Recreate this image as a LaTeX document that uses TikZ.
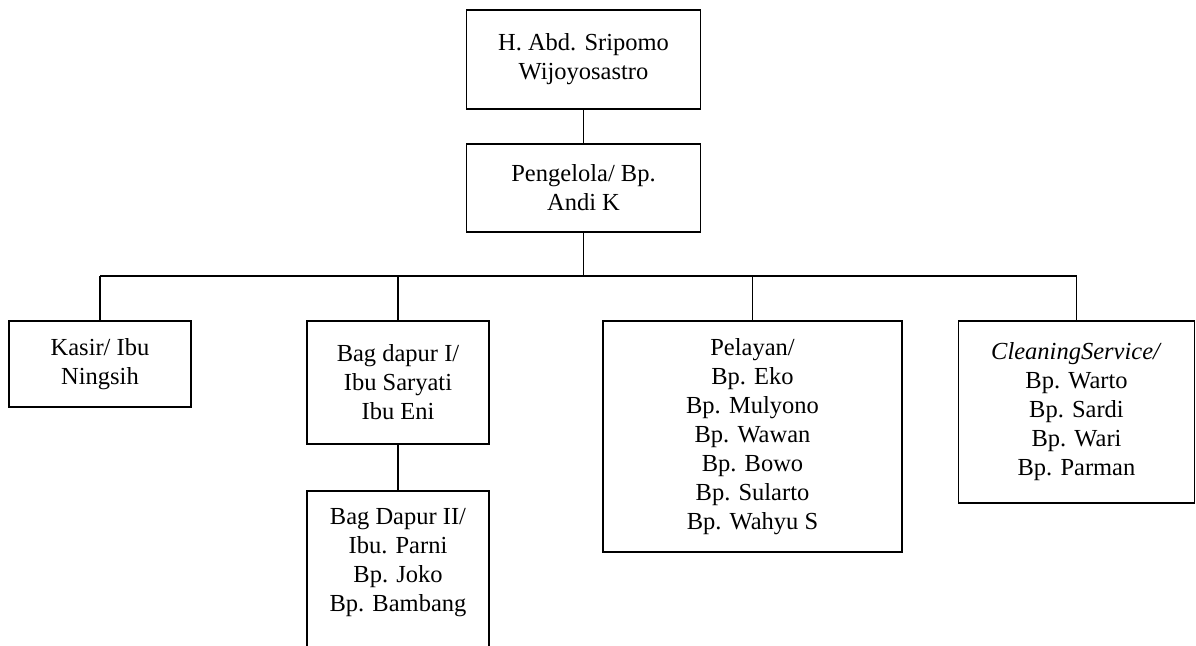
\documentclass[tikz,border=0pt]{standalone}
\usepackage{fontspec}
\setmainfont{Liberation Serif}
\tikzset{
  jabatan/.style={draw, line width=1.6pt, align=center, inner sep=0pt,
    font=\fontsize{24.5}{29}\selectfont},
  teks/.style={align=center, inner sep=0pt, font=\fontsize{24.5}{29}\selectfont},
  garis/.style={line width=1.6pt}
}
\begin{document}
\begin{tikzpicture}[x=1pt,y=-1pt]
\clip (0,0) rectangle (1196,645);
\node[jabatan, minimum width=234, minimum height=99] (pemilik) at (583.5,59.5) {H. Abd. Sripomo\\Wijoyosastro};
\node[jabatan, minimum width=234, minimum height=88] (pengelola) at (583.5,188) {Pengelola/ Bp.\\Andi K};
\node[jabatan, minimum width=182, minimum height=86] (kasir) at (100,364) {Kasir/ Ibu\\Ningsih};
\node[jabatan, minimum width=182, minimum height=123] (dapursatu) at (398,382.5) {Bag dapur I/\\Ibu Saryati\\Ibu Eni};
\node[jabatan, minimum width=182, minimum height=209] (dapurdua) at (398,595.5) {};
\node[teks, anchor=north] (dapurduateks) at ([yshift=-18pt]dapurdua.north) {Bag Dapur II/\\Ibu. Parni\\Bp. Joko\\Bp. Bambang};
\node[jabatan, minimum width=299, minimum height=231] (pelayan) at (752.5,436.5) {Pelayan/\\Bp. Eko\\Bp. Mulyono\\Bp. Wawan\\Bp. Bowo\\Bp. Sularto\\Bp. Wahyu S};
\node[jabatan, minimum width=236, minimum height=182] (cleaning) at (1076.5,412) {\textit{CleaningService/}\\Bp. Warto\\Bp. Sardi\\Bp. Wari\\Bp. Parman};
\coordinate (cabang) at (583.5,276);
% garis antar jabatan
\draw[garis] (pemilik) -- (pengelola);
\draw[garis] (pengelola) -- (cabang);
\draw[garis] (cabang -| kasir) -- (cabang -| cleaning);
\foreach \bagian in {kasir, dapursatu, pelayan, cleaning}
  \draw[garis] (cabang -| \bagian) -- (\bagian);
\draw[garis] (dapursatu) -- (dapurdua);
\end{tikzpicture}
\end{document}
